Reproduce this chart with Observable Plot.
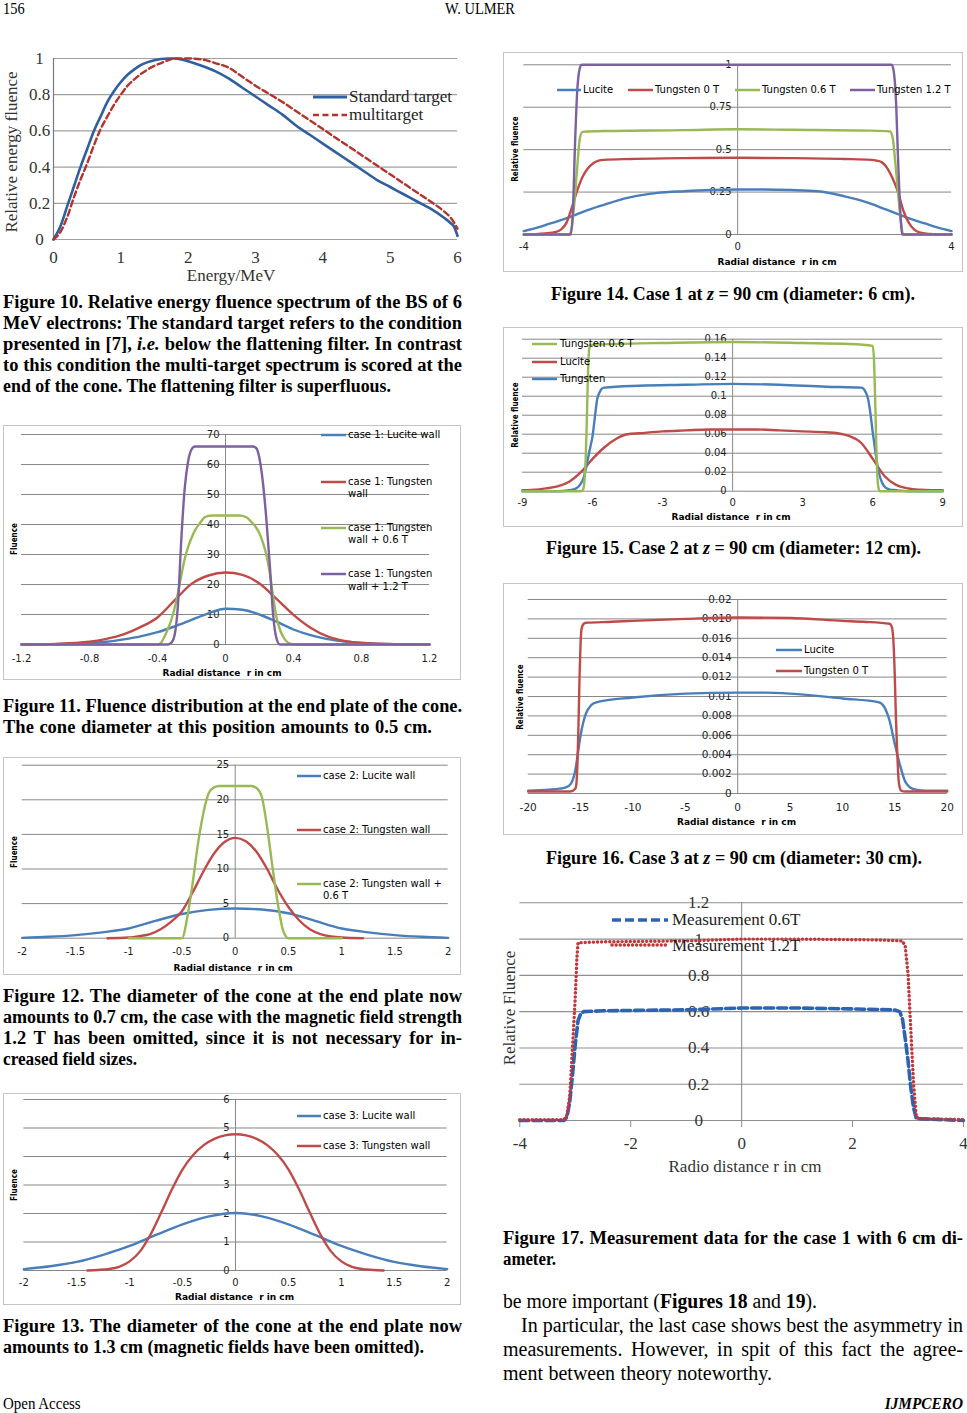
<!DOCTYPE html>
<html><head><meta charset="utf-8">
<script src="https://cdn.jsdelivr.net/npm/d3@7"></script>
<script src="https://cdn.jsdelivr.net/npm/@observablehq/plot@0.6"></script>
<style>
html,body{margin:0;padding:0;background:#fff;}
#page{position:relative;width:967px;height:1413px;overflow:hidden;background:#fff;color:#000;}
.box{position:absolute;border:1px solid #c4c4c4;box-sizing:border-box;}
</style></head><body><div id="page"></div>
<script>
// ================= DATA =================
// Figure 10
const fig10_xticks = [0,1,2,3,4,5,6];
const fig10_yticks = [0,0.2,0.4,0.6,0.8,1];
const fig10_std_E = [0,0.1,0.2,0.3,0.4,0.5,0.6,0.7,0.8,0.9,1.0,1.1,1.2,1.3,1.4,1.5,1.6,1.7,1.8,1.9,2.0,2.2,2.4,2.6,2.8,3.0,3.2,3.4,3.6,3.8,4.0,4.2,4.4,4.6,4.8,5.0,5.2,5.4,5.6,5.8,5.9,5.95,6.0];
const fig10_std_v = [0,0.07,0.18,0.29,0.4,0.5,0.6,0.68,0.76,0.82,0.87,0.91,0.94,0.965,0.98,0.99,0.997,1.0,1.0,0.995,0.985,0.96,0.93,0.89,0.84,0.79,0.74,0.69,0.63,0.58,0.53,0.48,0.43,0.38,0.33,0.29,0.25,0.21,0.17,0.12,0.09,0.07,0.02];
const fig10_multi_E = [0,0.1,0.2,0.3,0.4,0.5,0.6,0.7,0.8,0.9,1.0,1.1,1.2,1.3,1.4,1.5,1.6,1.7,1.8,1.9,2.0,2.2,2.4,2.6,2.8,3.0,3.2,3.4,3.6,3.8,4.0,4.2,4.4,4.6,4.8,5.0,5.2,5.4,5.6,5.8,5.9,6.0];
const fig10_multi_v = [0,0.04,0.12,0.23,0.33,0.42,0.52,0.61,0.68,0.745,0.8,0.85,0.885,0.915,0.94,0.96,0.975,0.99,1.0,1.0,1.0,0.995,0.975,0.95,0.9,0.85,0.805,0.76,0.71,0.66,0.61,0.56,0.51,0.46,0.41,0.36,0.31,0.26,0.21,0.155,0.12,0.06];

// Figure 11
const fig11_xticks = [-1.2,-0.8,-0.4,0,0.4,0.8,1.2];
const fig11_yticks = [0,10,20,30,40,50,60,70];
const fig11_lucite_x = [-1.2,-1.0,-0.8,-0.7,-0.6,-0.5,-0.4,-0.3,-0.2,-0.1,0,0.1,0.2,0.3,0.4,0.5,0.6,0.7,0.8,1.0,1.2];
const fig11_lucite_y = [0,0.05,0.4,0.9,1.7,2.7,4.1,6.0,8.2,10.4,11.9,11.6,10.0,7.6,5.0,3.1,1.8,1.0,0.5,0.1,0];
const fig11_tung_x = [-1.2,-1.0,-0.8,-0.7,-0.6,-0.5,-0.4,-0.3,-0.2,-0.1,0,0.1,0.2,0.3,0.4,0.5,0.6,0.7,0.8,1.0,1.2];
const fig11_tung_y = [0,0.2,0.9,1.9,3.4,5.8,9.0,14.7,20.2,23.0,24.0,23.2,20.3,15.2,9.9,5.6,2.7,1.2,0.5,0.1,0];
const fig11_t06_x = [-1.2,-0.6,-0.4,-0.38,-0.36,-0.34,-0.32,-0.30,-0.28,-0.26,-0.24,-0.22,-0.20,-0.18,-0.15,-0.12,-0.08,0,0.08,0.12,0.15,0.18,0.20,0.22,0.24,0.26,0.28,0.30,0.32,0.34,0.36,0.38,0.40,0.6,1.2];
const fig11_t06_y = [0,0,0,0.5,2.5,5,8,12,17,23,28.5,32.5,35.5,38,40.5,42.5,43,43,43,42.5,41,39,37,34,30,24,16,9,5,2.5,1,0.3,0,0,0];
const fig11_t12_x = [-1.2,-0.34,-0.32,-0.30,-0.28,-0.26,-0.24,-0.22,-0.20,-0.18,0,0.16,0.18,0.20,0.22,0.24,0.26,0.28,0.30,0.32,1.2];
const fig11_t12_y = [0,0,0.5,3,13,35,52,61,65,66,66,66,65.5,62,54,42,27,10,2,0,0];

// Figure 12
const fig12_xticks = [-2,-1.5,-1,-0.5,0,0.5,1,1.5,2];
const fig12_yticks = [0,5,10,15,20,25];
const fig12_lucite_x = [-2,-1.75,-1.5,-1.25,-1,-0.75,-0.5,-0.25,0,0.25,0.5,0.75,1,1.25,1.5,1.75,2];
const fig12_lucite_y = [0.05,0.2,0.45,0.85,1.4,2.5,3.5,4.1,4.3,4.15,3.6,2.5,1.4,0.85,0.45,0.2,0.05];
const fig12_tung_x = [-1.2,-1.0,-0.9,-0.8,-0.7,-0.6,-0.5,-0.4,-0.3,-0.2,-0.1,0,0.1,0.2,0.3,0.4,0.5,0.6,0.7,0.8,0.9,1.0,1.2];
const fig12_tung_y = [0,0.1,0.3,0.6,1.3,2.4,3.9,6.6,9.6,12.2,13.9,14.5,14.0,12.5,10.0,7.0,4.5,2.6,1.3,0.6,0.25,0.1,0];
const fig12_t06_x = [-1.0,-0.5,-0.45,-0.4,-0.35,-0.3,-0.25,-0.2,-0.15,0,0.15,0.2,0.25,0.3,0.35,0.4,0.45,0.5,1.0];
const fig12_t06_y = [0,0,3,7.9,13.6,18,20.9,21.8,22,22,22,21.7,20.4,16,10.3,5,1.1,0,0];

// Figure 13
const fig13_xticks = [-2,-1.5,-1,-0.5,0,0.5,1,1.5,2];
const fig13_yticks = [0,1,2,3,4,5,6];
const fig13_lucite_x = [-2,-1.75,-1.5,-1.25,-1,-0.75,-0.5,-0.25,0,0.25,0.5,0.75,1,1.25,1.5,1.75,2];
const fig13_lucite_y = [0.05,0.15,0.3,0.55,0.86,1.25,1.62,1.9,2.02,1.9,1.62,1.25,0.86,0.55,0.3,0.15,0.05];
const fig13_tung_x = [-1.4,-1.3,-1.2,-1.1,-1.0,-0.9,-0.8,-0.7,-0.6,-0.5,-0.4,-0.3,-0.2,-0.1,0,0.1,0.2,0.3,0.4,0.5,0.6,0.7,0.8,0.9,1.0,1.1,1.2,1.3,1.4];
const fig13_tung_y = [0,0.02,0.05,0.13,0.32,0.68,1.28,2.05,2.85,3.55,4.05,4.4,4.62,4.74,4.78,4.74,4.62,4.4,4.05,3.55,2.85,2.05,1.28,0.68,0.32,0.13,0.05,0.02,0];

// Figure 14
const fig14_xticks = [-4,0,4];
const fig14_yticks = [0,0.25,0.5,0.75,1];
const fig14_lucite_x = [-4,-3.75,-3.5,-3.25,-3,-2.75,-2.5,-2.25,-2,-1.5,-1,-0.5,0,0.5,1,1.5,2,2.25,2.5,2.75,3,3.25,3.5,3.75,4];
const fig14_lucite_y = [0.02,0.04,0.065,0.09,0.12,0.15,0.175,0.2,0.22,0.245,0.255,0.262,0.265,0.265,0.262,0.255,0.225,0.205,0.18,0.15,0.12,0.09,0.065,0.04,0.02];
const fig14_t0_x = [-4,-3.8,-3.6,-3.4,-3.3,-3.2,-3.1,-3.0,-2.9,-2.8,-2.7,-2.6,-2.5,-2,-1,0,1,2,2.5,2.6,2.7,2.8,2.9,3.0,3.1,3.2,3.3,3.4,3.6,3.8,4];
const fig14_t0_y = [0,0.002,0.006,0.015,0.03,0.07,0.16,0.26,0.34,0.39,0.42,0.435,0.44,0.445,0.45,0.452,0.45,0.445,0.44,0.435,0.425,0.39,0.33,0.25,0.14,0.07,0.03,0.012,0.003,0,0];
const fig14_t06_x = [-4,-3.15,-3.1,-3.05,-3.0,-2.95,-2.9,-2.5,-1,0,1,2.5,2.85,2.9,2.95,3.0,3.05,3.1,4];
const fig14_t06_y = [0,0,0.05,0.2,0.4,0.57,0.605,0.61,0.615,0.62,0.617,0.612,0.607,0.57,0.42,0.25,0.08,0,0];
const fig14_t12_x = [-4,-3.12,-3.08,-3.04,-3.0,-2.96,-2.92,0,2.88,2.92,2.96,3.0,3.04,3.08,4];
const fig14_t12_y = [0,0,0.15,0.55,0.85,0.97,1,1,1,0.96,0.8,0.45,0.15,0,0];

// Figure 15
const fig15_xticks = [-9,-6,-3,0,3,6,9];
const fig15_yticks = [0,0.02,0.04,0.06,0.08,0.1,0.12,0.14,0.16];
const fig15_t06_x = [-9,-6.5,-6.4,-6.35,-6.3,-6.25,-6.2,-6.15,-6.1,-5,-3,0,3,5,6,6.05,6.1,6.15,6.2,6.25,6.3,9];
const fig15_t06_y = [0,0,0.002,0.01,0.03,0.07,0.12,0.148,0.154,0.155,0.156,0.157,0.156,0.155,0.153,0.14,0.1,0.05,0.015,0.003,0,0];
const fig15_lucite_x = [-9,-8.5,-8,-7.5,-7,-6.5,-6,-5.5,-5,-4.5,-4,-3,-2,-1,0,1,2,3,4,4.5,5,5.5,6,6.5,7,7.5,8,8.5,9];
const fig15_lucite_y = [0.001,0.0015,0.003,0.005,0.01,0.02,0.034,0.046,0.055,0.06,0.061,0.063,0.064,0.065,0.065,0.065,0.064,0.063,0.062,0.061,0.058,0.051,0.034,0.016,0.0067,0.003,0.0015,0.001,0.001];
const fig15_tung_x = [-9,-7.5,-7,-6.7,-6.5,-6.4,-6.3,-6.2,-6.1,-6.0,-5.9,-5.8,-5.7,-5.6,-5.5,-4,-2,0,2,4,5.5,5.6,5.7,5.8,5.9,6.0,6.1,6.2,6.3,6.4,6.5,6.7,7,7.5,9];
const fig15_tung_y = [0,0,0.001,0.003,0.008,0.013,0.022,0.034,0.046,0.058,0.078,0.097,0.104,0.108,0.109,0.111,0.112,0.113,0.112,0.11,0.109,0.108,0.104,0.097,0.082,0.062,0.044,0.027,0.016,0.009,0.005,0.002,0.001,0,0];

// Figure 16
const fig16_xticks = [-20,-15,-10,-5,0,5,10,15,20];
const fig16_yticks = [0,0.002,0.004,0.006,0.008,0.01,0.012,0.014,0.016,0.018,0.02];
const fig16_lucite_x = [-20,-18,-17,-16.5,-16,-15.75,-15.5,-15.25,-15,-14.75,-14.5,-14,-13.5,-10,-5,0,2.5,5,10,13.5,14,14.5,15,15.5,16,16.5,17,18,20];
const fig16_lucite_y = [0.0003,0.0004,0.0005,0.0006,0.0009,0.0014,0.0024,0.0042,0.006,0.0073,0.0082,0.0091,0.0094,0.0099,0.0103,0.0104,0.0104,0.0103,0.0098,0.0094,0.0089,0.0075,0.0051,0.0029,0.0012,0.0006,0.0004,0.0003,0.0003];
const fig16_tung_x = [-20,-16,-15.5,-15.4,-15.3,-15.2,-15.1,-15.0,-14.9,-14.7,-14.5,-12,-10,-5,0,5,10,12,14.5,14.7,14.85,15.0,15.1,15.2,15.3,15.4,15.6,16,20];
const fig16_tung_y = [0.0002,0.0002,0.0005,0.001,0.003,0.007,0.012,0.0155,0.017,0.0175,0.0176,0.0177,0.0178,0.018,0.01815,0.0181,0.0178,0.0177,0.0175,0.0172,0.016,0.012,0.008,0.005,0.0025,0.001,0.0003,0.0002,0.0002];

// Figure 17
const fig17_xticks = [-4,-2,0,2,4];
const fig17_yticks = [0,0.2,0.4,0.6,0.8,1,1.2];
const fig17_m06_x = [-4,-3.2,-3.15,-3.1,-3.05,-3.0,-2.95,-2.9,-2.85,-2.5,-1,0,1,2,2.75,2.85,2.9,2.95,3.0,3.05,3.1,3.15,4];
const fig17_m06_y = [0,0,0.02,0.1,0.25,0.42,0.55,0.59,0.6,0.605,0.61,0.62,0.62,0.615,0.61,0.6,0.56,0.45,0.33,0.18,0.07,0.01,0];
const fig17_m12_x = [-4,-3.2,-3.15,-3.1,-3.05,-3.0,-2.97,-2.95,-2.5,-1,0,1,2.5,2.9,2.95,3.0,3.05,3.1,3.15,3.2,4];
const fig17_m12_y = [0.005,0.005,0.03,0.13,0.4,0.68,0.9,0.98,0.985,0.99,1.0,1.0,0.995,0.99,0.96,0.81,0.5,0.2,0.02,0.01,0.005];

// ================= HELPERS =================
const SERIF = '"Liberation Serif","Times New Roman",serif';
const EXF = '"DejaVu Sans",sans-serif';
const GRID = '#878787';
const EX_BLUE = '#4a7ebb', EX_RED = '#be4b48', EX_GREEN = '#98b954', EX_PURPLE = '#7d60a0';
const page = document.getElementById('page');
const fmt = d => String(+(+d).toFixed(4));
const pairs = (xs, ys) => xs.map((x, i) => ({x, y: ys[i]}));

function put(svg, left, top) {
  svg.style.position = 'absolute';
  svg.style.left = left + 'px';
  svg.style.top = top + 'px';
  svg.style.maxWidth = 'none';
  page.appendChild(svg);
}

function label(html, x, y, o = {}) {
  const d = document.createElement('div');
  d.innerHTML = html;
  const anchor = o.anchor || 'middle';
  const tx = anchor === 'middle' ? '-50%' : anchor === 'end' ? '-100%' : '0';
  const origin = anchor === 'middle' ? '50% 50%' : anchor === 'end' ? '100% 50%' : '0 50%';
  let tr = `translate(${tx},-50%)`;
  if (o.rotate) tr += ` rotate(${o.rotate}deg)`;
  if (o.sx) tr += ` scaleX(${o.sx})`;
  d.style.cssText = `position:absolute;left:${x}px;top:${y}px;white-space:nowrap;font-family:${o.family || EXF};font-size:${o.size || 10}px;font-weight:${o.weight || 'normal'};font-style:${o.italic ? 'italic' : 'normal'};color:${o.color || '#000'};line-height:1.15;transform:${tr};transform-origin:${origin};letter-spacing:${o.ls || 0}px;`;
  page.appendChild(d);
  return d;
}

function swatch(x1, x2, y, color, w = 2.5, dash = null, cap = 'butt') {
  const NS = 'http://www.w3.org/2000/svg';
  const s = document.createElementNS(NS, 'svg');
  s.setAttribute('width', x2 - x1 + 10);
  s.setAttribute('height', 10);
  s.style.cssText = `position:absolute;left:${x1 - 5}px;top:${y - 5}px;overflow:visible;`;
  const l = document.createElementNS(NS, 'line');
  l.setAttribute('x1', 5); l.setAttribute('x2', x2 - x1 + 5);
  l.setAttribute('y1', 5); l.setAttribute('y2', 5);
  l.setAttribute('stroke', color); l.setAttribute('stroke-width', w);
  l.setAttribute('stroke-linecap', cap);
  if (dash) l.setAttribute('stroke-dasharray', dash);
  s.appendChild(l);
  page.appendChild(s);
}

function excelChart(c) {
  const box = document.createElement('div');
  box.className = 'box';
  Object.assign(box.style, {left: c.left + 'px', top: c.top + 'px', width: c.width + 'px', height: c.height + 'px'});
  page.appendChild(box);
  const fs = c.fontSize || 10;
  const marks = [
    Plot.ruleY(c.yTicks, {stroke: GRID, strokeWidth: 1}),
    Plot.ruleX([0], {stroke: GRID, strokeWidth: 1}),
    Plot.text(c.yTicks, {x: 0, y: d => d, text: fmt, textAnchor: 'end', dx: -6, fontSize: fs, fontFamily: EXF, fill: '#1e1e1e'}),
    Plot.text(c.xTicks, {x: d => d, y: c.yDomain[0], text: fmt, dy: c.xDy, fontSize: fs, fontFamily: EXF, fill: '#1e1e1e'}),
    ...c.series.map(s => Plot.line(pairs(s.x, s.y), {x: 'x', y: 'y', stroke: s.color, strokeWidth: 2.4, strokeLinejoin: 'round', curve: 'monotone-x'}))
  ];
  const svg = Plot.plot({
    width: c.width, height: c.height,
    marginLeft: c.m[0], marginRight: c.m[1], marginTop: c.m[2], marginBottom: c.m[3],
    x: {domain: c.xDomain, axis: null},
    y: {domain: c.yDomain, axis: null},
    style: {background: 'transparent', overflow: 'visible'},
    marks
  });
  put(svg, c.left, c.top);
  label(c.xTitle, c.xT[0], c.xT[1], {size: 9, weight: 'bold'});
  label(c.yTitle, c.yT[0], c.yT[1], {size: 9.5, weight: 'bold', rotate: -90, sx: 0.76});
  for (const L of c.legend) {
    swatch(L.x1, L.x2, L.y, L.color, 2.5);
    L.lines.forEach((t, i) => label(t, L.tx, L.y + i * 12.4, {anchor: 'start', size: 10}));
  }
}

// text lines (captions / body) fitted to their printed extent
const fits = [];
function tline(html, x1, x2, cy, o = {}) {
  const size = o.size || 18.5, lh = Math.round(size * 1.3);
  const d = document.createElement('div');
  d.style.cssText = `position:absolute;left:${x1}px;top:${cy - lh / 2}px;width:${x2 - x1 + 40}px;height:${lh}px;line-height:${lh}px;white-space:nowrap;font-family:${SERIF};font-size:${size}px;font-weight:${o.weight || 'bold'};font-style:${o.italic ? 'italic' : 'normal'};color:#000;`;
  const s = document.createElement('span');
  s.style.display = 'inline-block';
  s.style.transformOrigin = '0 50%';
  s.innerHTML = html;
  d.appendChild(s);
  page.appendChild(d);
  fits.push([s, x2 - x1]);
}
function doFits() {
  for (const [s, w] of fits) {
    s.style.transform = ''; s.style.wordSpacing = '';
    const nat = s.getBoundingClientRect().width;
    if (nat > w) s.style.transform = `scaleX(${w / nat})`;
    else {
      const n = (s.textContent.match(/ /g) || []).length;
      if (n) s.style.wordSpacing = ((w - nat) / n) + 'px';
    }
  }
}

// ================= PAGE =================
// header / footer
label('156', 3, 9, {family: SERIF, size: 16, anchor: 'start', sx: 0.9});
label('W. ULMER', 480, 9, {family: SERIF, size: 16, sx: 0.9});
label('Open Access', 3, 1404, {family: SERIF, size: 17, anchor: 'start', sx: 0.88});
label('IJMPCERO', 963, 1404, {family: SERIF, size: 17, anchor: 'end', weight: 'bold', italic: true, sx: 0.9});

// ---- Figure 10 ----
{
  const BLUE10 = '#2f5f9f', RED10 = '#b5322d';
  const svg = Plot.plot({
    width: 470, height: 250, marginLeft: 53, marginRight: 13, marginTop: 18, marginBottom: 51,
    x: {domain: [0, 6], axis: null}, y: {domain: [0, 1], axis: null},
    style: {background: 'transparent', overflow: 'visible'},
    marks: [
      Plot.ruleY(fig10_yticks, {stroke: '#a0a0a0', strokeWidth: 1.2}),
      Plot.ruleX([0], {stroke: '#7a7a7a', strokeWidth: 1.2}),
      Plot.text(fig10_yticks, {x: 0, y: d => d, text: fmt, dx: -14, fontSize: 17, fontFamily: SERIF, fill: '#333'}),
      Plot.text(fig10_xticks, {x: d => d, y: 0, text: fmt, dy: 18, fontSize: 17, fontFamily: SERIF, fill: '#333'}),
      Plot.line(pairs(fig10_std_E, fig10_std_v), {x: 'x', y: 'y', stroke: BLUE10, strokeWidth: 2.6, curve: 'monotone-x'}),
      Plot.line(pairs(fig10_multi_E, fig10_multi_v), {x: 'x', y: 'y', stroke: RED10, strokeWidth: 2.4, strokeDasharray: '6 3.5', curve: 'monotone-x'})
    ]
  });
  put(svg, 0, 40);
  label('Energy/MeV', 231, 276, {family: SERIF, size: 17, color: '#333'});
  label('Relative energy fluence', 12, 152, {family: SERIF, size: 17, color: '#333', rotate: -90});
  swatch(313, 347, 97, BLUE10, 2.8);
  swatch(313, 347, 115, RED10, 2.4, '6 3.5');
  label('Standard target', 349, 97, {family: SERIF, size: 17, anchor: 'start', color: '#222'});
  label('multitarget', 349, 115, {family: SERIF, size: 17, anchor: 'start', color: '#222'});
}
tline('Figure 10. Relative energy fluence spectrum of the BS of 6', 3, 462, 302);
tline('MeV electrons: The standard target refers to the condition', 3, 462, 323);
tline('presented in [7], <i>i.e.</i> below the flattening filter. In contrast', 3, 462, 344);
tline('to this condition the multi-target spectrum is scored at the', 3, 462, 365);
tline('end of the cone. The flattening filter is superfluous.', 3, 391, 386);

// ---- Figure 11 ----
excelChart({
  left: 3, top: 425, width: 458, height: 255, m: [18, 32, 9, 36],
  xDomain: [-1.2, 1.2], yDomain: [0, 70], xTicks: fig11_xticks, yTicks: fig11_yticks, xDy: 14,
  series: [
    {x: fig11_lucite_x, y: fig11_lucite_y, color: EX_BLUE},
    {x: fig11_tung_x, y: fig11_tung_y, color: EX_RED},
    {x: fig11_t06_x, y: fig11_t06_y, color: EX_GREEN},
    {x: fig11_t12_x, y: fig11_t12_y, color: EX_PURPLE}
  ],
  xTitle: 'Radial distance&nbsp; r in cm', xT: [222, 673],
  yTitle: 'Fluence', yT: [13.5, 539],
  legend: [
    {x1: 321, x2: 346, y: 434.5, tx: 348, color: EX_BLUE, lines: ['case 1: Lucite wall']},
    {x1: 321, x2: 346, y: 481.7, tx: 348, color: EX_RED, lines: ['case 1: Tungsten', 'wall']},
    {x1: 321, x2: 346, y: 527.7, tx: 348, color: EX_GREEN, lines: ['case 1: Tungsten', 'wall + 0.6 T']},
    {x1: 321, x2: 346, y: 574.3, tx: 348, color: EX_PURPLE, lines: ['case 1: Tungsten', 'wall + 1.2 T']}
  ]
});
tline('Figure 11. Fluence distribution at the end plate of the cone.', 3, 462, 706);
tline('The cone diameter at this position amounts to 0.5 cm.', 3, 432, 727);

// ---- Figure 12 ----
excelChart({
  left: 3, top: 757, width: 458, height: 218, m: [18.7, 13.3, 7.7, 37.3],
  xDomain: [-2, 2], yDomain: [0, 25], xTicks: fig12_xticks, yTicks: fig12_yticks, xDy: 14,
  series: [
    {x: fig12_lucite_x, y: fig12_lucite_y, color: EX_BLUE},
    {x: fig12_tung_x, y: fig12_tung_y, color: EX_RED},
    {x: fig12_t06_x, y: fig12_t06_y, color: EX_GREEN}
  ],
  xTitle: 'Radial distance&nbsp; r in cm', xT: [233, 968.3],
  yTitle: 'Fluence', yT: [13.5, 851.7],
  legend: [
    {x1: 297, x2: 321, y: 775.7, tx: 323, color: EX_BLUE, lines: ['case 2: Lucite wall']},
    {x1: 297, x2: 321, y: 830, tx: 323, color: EX_RED, lines: ['case 2: Tungsten wall']},
    {x1: 297, x2: 321, y: 884, tx: 323, color: EX_GREEN, lines: ['case 2: Tungsten wall +', '0.6 T']}
  ]
});
tline('Figure 12. The diameter of the cone at the end plate now', 3, 462, 996);
tline('amounts to 0.7 cm, the case with the magnetic field strength', 3, 462, 1017);
tline('1.2 T has been omitted, since it is not necessary for in-', 3, 462, 1038);
tline('creased field sizes.', 3, 137, 1059);

// ---- Figure 13 ----
excelChart({
  left: 3, top: 1093, width: 458, height: 212, m: [20.3, 14.3, 6, 35],
  xDomain: [-2, 2], yDomain: [0, 6], xTicks: fig13_xticks, yTicks: fig13_yticks, xDy: 12.7,
  series: [
    {x: fig13_lucite_x, y: fig13_lucite_y, color: EX_BLUE},
    {x: fig13_tung_x, y: fig13_tung_y, color: EX_RED}
  ],
  xTitle: 'Radial distance&nbsp; r in cm', xT: [234.5, 1296.7],
  yTitle: 'Fluence', yT: [13.5, 1185],
  legend: [
    {x1: 297, x2: 321, y: 1116, tx: 323, color: EX_BLUE, lines: ['case 3: Lucite wall']},
    {x1: 297, x2: 321, y: 1145.7, tx: 323, color: EX_RED, lines: ['case 3: Tungsten wall']}
  ]
});
tline('Figure 13. The diameter of the cone at the end plate now', 3, 462, 1326);
tline('amounts to 1.3 cm (magnetic fields have been omitted).', 3, 424, 1347);

// ---- Figure 14 ----
excelChart({
  left: 503, top: 52, width: 460, height: 220, m: [20.3, 12, 12.3, 38],
  xDomain: [-4, 4], yDomain: [0, 1], xTicks: fig14_xticks, yTicks: fig14_yticks, xDy: 12.7,
  series: [
    {x: fig14_lucite_x, y: fig14_lucite_y, color: EX_BLUE},
    {x: fig14_t0_x, y: fig14_t0_y, color: EX_RED},
    {x: fig14_t06_x, y: fig14_t06_y, color: EX_GREEN},
    {x: fig14_t12_x, y: fig14_t12_y, color: EX_PURPLE}
  ],
  xTitle: 'Radial distance&nbsp; r in cm', xT: [777, 261.7],
  yTitle: 'Relative fluence', yT: [515, 149],
  legend: [
    {x1: 557, x2: 581, y: 90, tx: 583, color: EX_BLUE, lines: ['Lucite']},
    {x1: 628, x2: 653, y: 90, tx: 655, color: EX_RED, lines: ['Tungsten 0 T']},
    {x1: 735, x2: 760, y: 90, tx: 762, color: EX_GREEN, lines: ['Tungsten 0.6 T']},
    {x1: 850, x2: 875, y: 90, tx: 877, color: EX_PURPLE, lines: ['Tungsten 1.2 T']}
  ]
});
tline('Figure 14. Case 1 at <i>z</i> = 90 cm (diameter: 6 cm).', 551, 915, 294);

// ---- Figure 15 ----
excelChart({
  left: 503, top: 327, width: 460, height: 200, m: [19, 20.7, 11.7, 36.3],
  xDomain: [-9, 9], yDomain: [0, 0.16], xTicks: fig15_xticks, yTicks: fig15_yticks, xDy: 12,
  series: [
    {x: fig15_lucite_x, y: fig15_lucite_y, color: EX_RED},
    {x: fig15_tung_x, y: fig15_tung_y, color: EX_BLUE},
    {x: fig15_t06_x, y: fig15_t06_y, color: EX_GREEN}
  ],
  xTitle: 'Radial distance&nbsp; r in cm', xT: [731, 517.3],
  yTitle: 'Relative fluence', yT: [515, 415],
  legend: [
    {x1: 532, x2: 557, y: 344.3, tx: 560, color: EX_GREEN, lines: ['Tungsten 0.6 T']},
    {x1: 532, x2: 557, y: 362.3, tx: 560, color: EX_RED, lines: ['Lucite']},
    {x1: 532, x2: 557, y: 379, tx: 560, color: EX_BLUE, lines: ['Tungsten']}
  ]
});
tline('Figure 15. Case 2 at <i>z</i> = 90 cm (diameter: 12 cm).', 546, 921, 548);

// ---- Figure 16 ----
excelChart({
  left: 503, top: 583, width: 460, height: 252, m: [24.7, 16.3, 16, 42],
  xDomain: [-20, 20], yDomain: [0, 0.02], xTicks: fig16_xticks, yTicks: fig16_yticks, xDy: 13.7, fontSize: 10.5,
  series: [
    {x: fig16_lucite_x, y: fig16_lucite_y, color: EX_BLUE},
    {x: fig16_tung_x, y: fig16_tung_y, color: EX_RED}
  ],
  xTitle: 'Radial distance&nbsp; r in cm', xT: [736.5, 822.3],
  yTitle: 'Relative fluence', yT: [520, 697],
  legend: [
    {x1: 776, x2: 802, y: 650, tx: 804, color: EX_BLUE, lines: ['Lucite']},
    {x1: 776, x2: 802, y: 670.7, tx: 804, color: EX_RED, lines: ['Tungsten 0 T']}
  ]
});
tline('Figure 16. Case 3 at <i>z</i> = 90 cm (diameter: 30 cm).', 546, 922, 858);

// ---- Figure 17 ----
{
  const B17 = '#2c63b2', R17 = '#c0373a';
  const svg = Plot.plot({
    width: 477, height: 290, marginLeft: 29.3, marginRight: 4, marginTop: 12.3, marginBottom: 60,
    x: {domain: [-4, 4], axis: null}, y: {domain: [0, 1.2], axis: null},
    style: {background: 'transparent', overflow: 'visible'},
    marks: [
      Plot.ruleY(fig17_yticks, {stroke: '#8e8e8e', strokeWidth: 1.1}),
      Plot.ruleX([0], {stroke: '#8e8e8e', strokeWidth: 1.1}),
      Plot.axisX(fig17_xticks, {tickSize: 7, tickPadding: 9, tickFormat: fmt, fontSize: 17, fontFamily: SERIF, stroke: '#8e8e8e', fill: '#333', label: null}),
      Plot.text(fig17_yticks, {x: 0, y: d => d, text: fmt, dx: -43, fontSize: 17, fontFamily: SERIF, fill: '#333'}),
      Plot.line(pairs(fig17_m06_x, fig17_m06_y), {x: 'x', y: 'y', stroke: B17, strokeWidth: 3.6, strokeDasharray: '9 4'}),
      Plot.line(pairs(fig17_m12_x, fig17_m12_y), {x: 'x', y: 'y', stroke: R17, strokeWidth: 3.4, strokeDasharray: '0.1 4', strokeLinecap: 'round'})
    ]
  });
  put(svg, 490, 890);
  swatch(612, 668, 920, B17, 3.6, '9 4');
  swatch(612, 668, 945, R17, 3.4, '0.1 4', 'round');
  label('Measurement 0.6T', 672, 920, {family: SERIF, size: 17, anchor: 'start', color: '#222'});
  label('Measurement 1.2T', 672, 946, {family: SERIF, size: 17, anchor: 'start', color: '#222'});
  label('Radio distance r in cm', 745, 1167, {family: SERIF, size: 17, color: '#333'});
  label('Relative Fluence', 510, 1008, {family: SERIF, size: 17, color: '#333', rotate: -90});
}
tline('Figure 17. Measurement data for the case 1 with 6 cm di-', 503, 963, 1238);
tline('ameter.', 503, 556, 1259);

// ---- body text ----
tline('be more important (<b>Figures 18</b> and <b>19</b>).', 503, 817, 1301, {weight: 'normal', size: 20});
tline('In particular, the last case shows best the asymmetry in', 521, 963, 1325, {weight: 'normal', size: 20});
tline('measurements. However, in spit of this fact the agree-', 503, 963, 1349, {weight: 'normal', size: 20});
tline('ment between theory noteworthy.', 503, 772, 1373, {weight: 'normal', size: 20});

doFits();
if (document.fonts && document.fonts.ready) document.fonts.ready.then(doFits);
</script></body></html>
